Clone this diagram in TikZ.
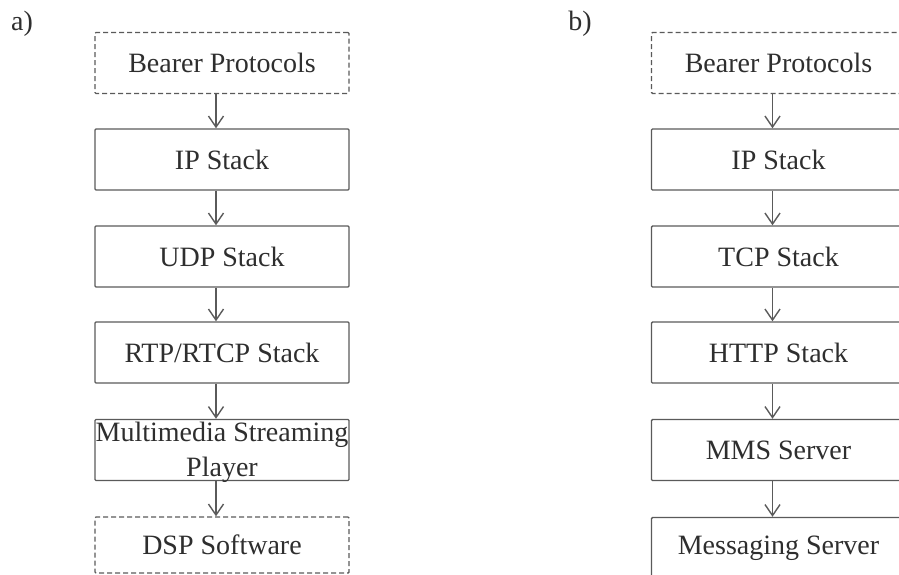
\documentclass[tikz,border=0pt]{standalone}
\usepackage{fontspec}
\setmainfont{Liberation Serif}
\usetikzlibrary{arrows.meta}
\definecolor{linegray}{HTML}{5A5A5A}
\definecolor{textgray}{HTML}{2E2E2E}
\begin{document}
\begin{tikzpicture}[x=1pt,y=-1pt,
  layerbox/.style={draw=linegray, line width=1.4pt, minimum width=254pt, minimum height=61pt,
    inner sep=0pt, text=textgray, font=\fontsize{28}{34}\selectfont, rounded corners=1pt},
  optbox/.style={layerbox, dash pattern=on 5pt off 3pt},
  flow/.style={draw=linegray, line width=1.4pt, -{Straight Barb[length=11pt,width=15pt]}},
  tag/.style={text=textgray, font=\fontsize{28}{34}\selectfont, inner sep=0pt}]
\useasboundingbox (0,0) rectangle (899,575);
\clip (0,0) rectangle (899,575);
% labels
\node[tag] (la) at (22,24) {a)};
\node[tag] (lb) at (580,24) {b)};
% column a
\node[optbox]   (a1) at (222,63)    {Bearer Protocols};
\node[layerbox] (a2) at (222,159.5) {IP Stack};
\node[layerbox] (a3) at (222,256.5) {UDP Stack};
\node[layerbox] (a4) at (222,352.5) {RTP/RTCP Stack};
\node[layerbox] (a5) at (222,450)   {};
\node[text=textgray, font=\fontsize{28}{35}\selectfont, align=center, inner sep=0pt] (a5t) at (222,452) {Multimedia Streaming\\Player};
\node[optbox, minimum height=56pt] (a6) at (222,545) {DSP Software};
% column b
\node[optbox]   (b1) at (778.5,63)    {Bearer Protocols};
\node[layerbox] (b2) at (778.5,159.5) {IP Stack};
\node[layerbox] (b3) at (778.5,256.5) {TCP Stack};
\node[layerbox] (b4) at (778.5,352.5) {HTTP Stack};
\node[layerbox] (b5) at (778.5,450)   {MMS Server};
\node[layerbox] (b6) at (778.5,548)   {Messaging Server};
% connectors
\foreach \u/\v in {a1/a2,a2/a3,a3/a4,a4/a5,a5/a6,b1/b2,b2/b3,b3/b4,b4/b5,b5/b6}
  \draw[flow] ([xshift=-6pt]\u.south) -- ([xshift=-6pt]\v.north);
\end{tikzpicture}
\end{document}
